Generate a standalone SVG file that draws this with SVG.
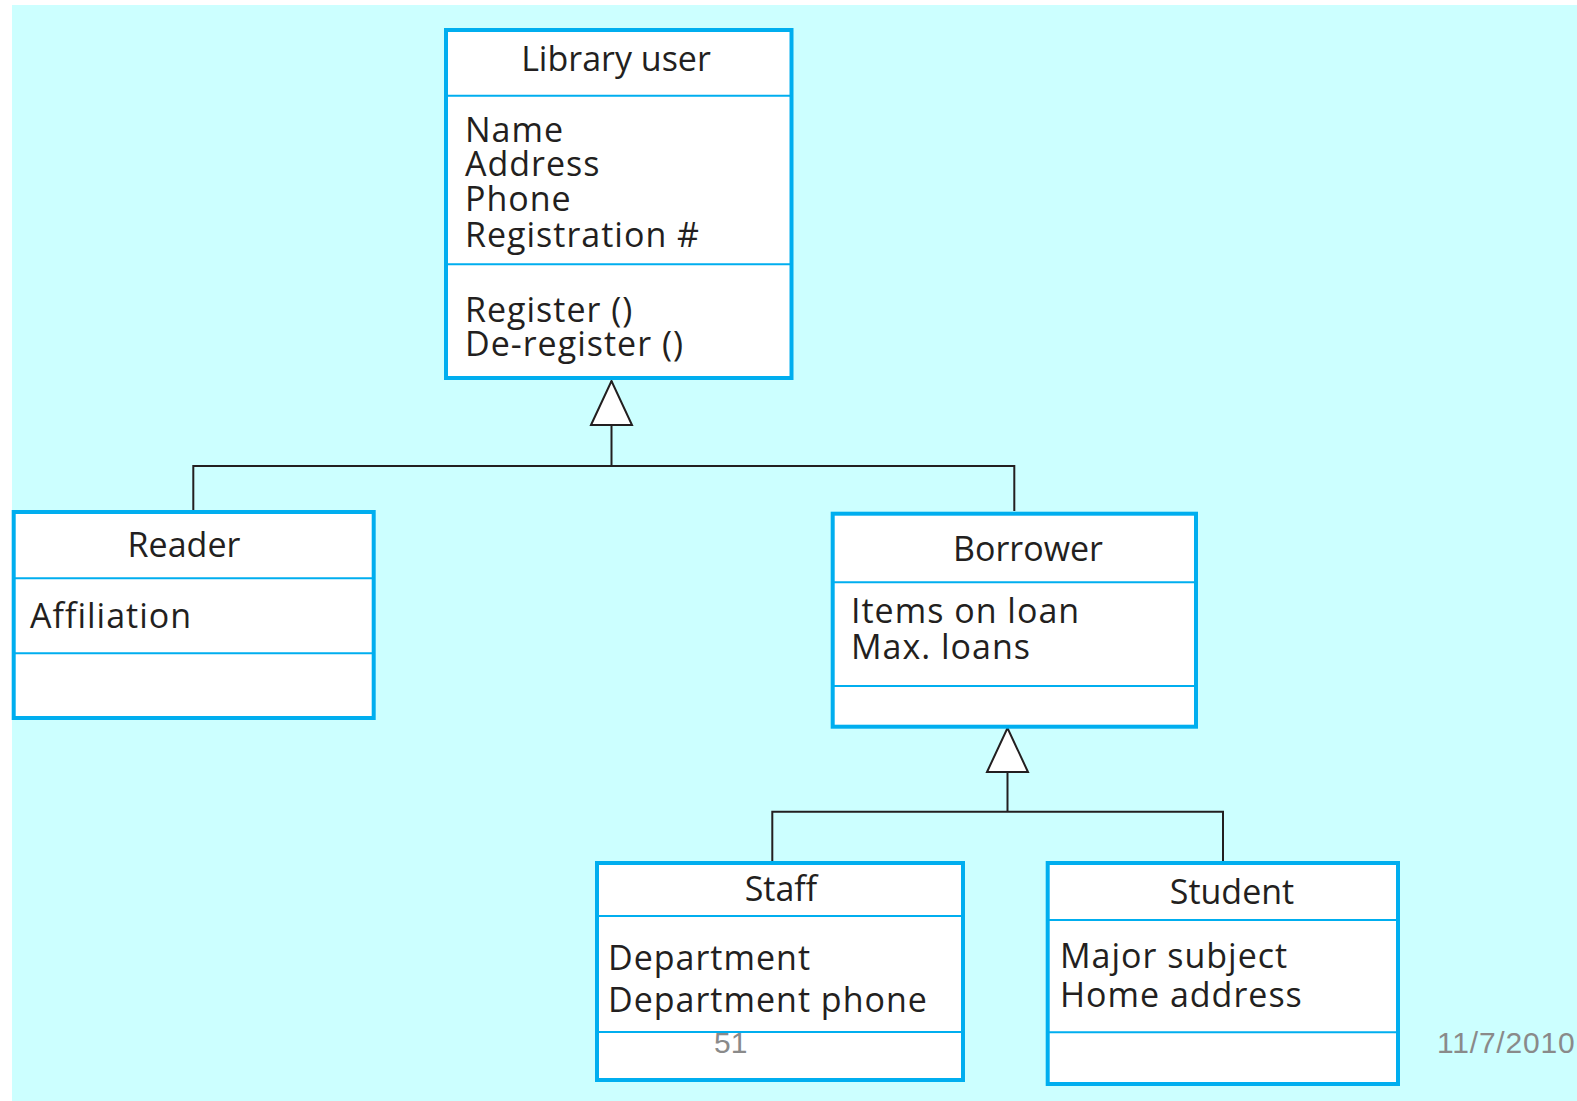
<svg xmlns="http://www.w3.org/2000/svg" width="1577" height="1101" viewBox="0 0 1577 1101">
  <style>
    .box { fill: #ffffff; stroke: #00aeef; stroke-width: 4; }
    .div { stroke: #00aeef; stroke-width: 2; fill: none; }
    .t { font-family: "Open Sans", "Noto Sans", sans-serif; font-size: 34px; fill: #231f20; }
    .a { letter-spacing: 1px; }
    .c { text-anchor: middle; }
    .edge { fill: none; stroke: #231f20; stroke-width: 2; }
    .foot { font-family: "Liberation Sans", Arial, sans-serif; font-size: 30px; fill: #8a8a8a; }
  </style>
  <defs>
    <!-- hollow generalization triangle, apex at the path end -->
    <marker id="gen" viewBox="-2 -2 48 45" markerWidth="48" markerHeight="45" refX="44" refY="20.5" markerUnits="userSpaceOnUse" orient="auto">
      <path d="M0,0 L44,20.5 L0,41 Z" fill="#ffffff" stroke="#231f20" stroke-width="2"/>
    </marker>
  </defs>

  <rect x="12" y="5" width="1565" height="1096" fill="#ccffff"/>

  <g id="connectors">
    <path class="edge" d="M611.5,466 V381" marker-end="url(#gen)"/>
    <path class="edge" d="M193.3,511 V466 H1014.3 V511"/>
    <path class="edge" d="M1007.5,811.7 V728" marker-end="url(#gen)"/>
    <path class="edge" d="M772.3,862 V811.7 H1223 V862"/>
  </g>

  <g id="library-user">
    <rect class="box" x="446" y="30" width="345.5" height="348"/>
    <line class="div" x1="446" y1="95.7" x2="791.5" y2="95.7"/>
    <line class="div" x1="446" y1="264.3" x2="791.5" y2="264.3"/>
    <text class="t c" x="616" y="71">Library user</text>
    <text class="t a">
      <tspan x="465" y="141.7">Name</tspan>
      <tspan x="465" y="175.7">Address</tspan>
      <tspan x="465" y="211">Phone</tspan>
      <tspan x="465" y="246.7">Registration #</tspan>
    </text>
    <text class="t a">
      <tspan x="465" y="321.7">Register ()</tspan>
      <tspan x="465" y="356">De-register ()</tspan>
    </text>
  </g>

  <g id="reader">
    <rect class="box" x="13.7" y="512" width="360" height="206"/>
    <line class="div" x1="13.7" y1="578.3" x2="373.7" y2="578.3"/>
    <line class="div" x1="13.7" y1="653.3" x2="373.7" y2="653.3"/>
    <text class="t c" x="184" y="556.7">Reader</text>
    <text class="t a" x="30" y="628.3">Affiliation</text>
  </g>

  <g id="borrower">
    <rect class="box" x="832.7" y="513.7" width="363.3" height="213"/>
    <line class="div" x1="832.7" y1="582.3" x2="1196" y2="582.3"/>
    <line class="div" x1="832.7" y1="686" x2="1196" y2="686"/>
    <text class="t c" x="1028" y="561">Borrower</text>
    <text class="t a">
      <tspan x="851" y="623.3">Items on loan</tspan>
      <tspan x="851" y="659.3">Max. loans</tspan>
    </text>
  </g>

  <g id="staff">
    <rect class="box" x="597" y="863" width="366" height="217"/>
    <line class="div" x1="597" y1="916" x2="963" y2="916"/>
    <line class="div" x1="597" y1="1032" x2="963" y2="1032"/>
    <text class="t c" x="781" y="901">Staff</text>
    <text class="t a">
      <tspan x="608" y="970">Department</tspan>
      <tspan x="608" y="1011.7">Department phone</tspan>
    </text>
  </g>

  <g id="student">
    <rect class="box" x="1047.7" y="863" width="350.3" height="221"/>
    <line class="div" x1="1047.7" y1="920" x2="1398" y2="920"/>
    <line class="div" x1="1047.7" y1="1032.3" x2="1398" y2="1032.3"/>
    <text class="t c" x="1232" y="904">Student</text>
    <text class="t a">
      <tspan x="1060" y="968.3">Major subject</tspan>
      <tspan x="1060" y="1006.7">Home address</tspan>
    </text>
  </g>

  <g id="footer">
    <text class="foot" x="714" y="1052.5">51</text>
    <text class="foot" x="1437" y="1053" letter-spacing="0.8">11/7/2010</text>
  </g>
</svg>
